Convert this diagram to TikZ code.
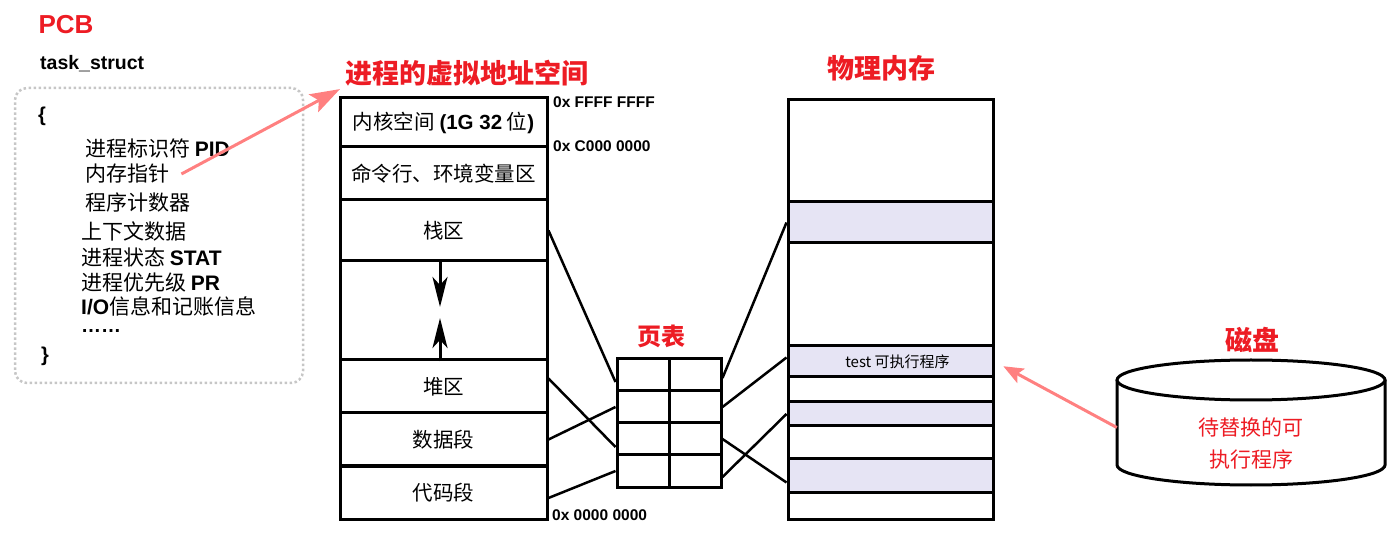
\documentclass[tikz,border=0pt]{standalone}
\usepackage{fontspec}
\setmainfont{Liberation Sans}
\newfontfamily\cjk{Noto Sans CJK SC}
\usetikzlibrary{arrows.meta}

\definecolor{title_red}{RGB}{237,28,36}
\definecolor{link_red}{RGB}{255,128,128}
\definecolor{page_fill}{RGB}{230,228,244}

\newcommand{\pxsize}[1]{\fontsize{#1pt}{#1pt}\selectfont}
\newcommand{\latb}[1]{{\rmfamily\bfseries #1}}

\begin{document}
\begin{tikzpicture}[
    x=1pt, y=-1pt,
    red_title/.style={
        font=\cjk\bfseries\pxsize{27}, text=title_red, inner sep=0pt
    },
    vm_seg/.style={
        draw=black, line width=3pt, fill=white,
        minimum width=207pt, inner sep=0pt,
        font=\cjk\pxsize{20.5}
    },
    pm_seg/.style={
        draw=black, line width=3pt,
        minimum width=205pt, inner sep=0pt
    },
    pt_cell/.style={
        draw=black, line width=3pt,
        minimum width=52pt, minimum height=32pt, inner sep=0pt
    },
    field/.style={anchor=west, inner sep=0pt, font=\cjk\pxsize{21}},
    addr/.style={anchor=west, inner sep=0pt, font=\bfseries\pxsize{15.5}},
    map_line/.style={black, line width=2.5pt},
    grow_arrow/.style={
        -{Stealth[length=30pt, width=15pt, inset=8pt]}, line width=3pt
    },
    link_arrow/.style={link_red, line width=3pt}
]
\useasboundingbox (0,0) rectangle (1398,534);

%% ── PCB ─────────────────────────────────────
\node[text=title_red, font=\bfseries\pxsize{26}, inner sep=0pt]
    (pcb_title) at (66,25) {PCB};
\node[anchor=west, inner sep=0pt, font=\bfseries\pxsize{19.5}]
    (ts_name) at (40,64) {task\_struct};

\node[draw=gray!45, line width=2.5pt, dash pattern=on 2.5pt off 2.5pt,
      rounded corners=12pt, minimum width=288pt, minimum height=295pt]
    (pcb_box) at (159,235.5) {};

\node[field, font=\bfseries\pxsize{20}] (br_open) at (38,116) {\{};
\node[field] (f_pid)  at (85,148) {进程标识符 \latb{PID}};
\node[field] (f_mem)  at (85,174) {内存指针};
\node[field] (f_pc)   at (85,203) {程序计数器};
\node[field] (f_ctx)  at (81,231) {上下文数据};
\node[field] (f_stat) at (81,257) {进程状态 \latb{STAT}};
\node[field] (f_pr)   at (81,283) {进程优先级 \latb{PR}};
\node[field] (f_io)   at (81,306) {\latb{I/O}信息和记账信息};
\node[field, font=\bfseries\pxsize{20}] (f_more) at (81,331) {……};
\node[field, font=\bfseries\pxsize{20}] (br_close) at (41,356) {\}};

% ══════════════════════════════════════
%  virtual address space
% ══════════════════════════════════════
\node[red_title] (vm_title) at (467,73) {进程的虚拟地址空间};

\node[vm_seg, minimum height=49pt] (kernel)  at (443.5,122.5)
    {内核空间 \latb{(1G 32} 位\latb{)}};
\node[vm_seg, minimum height=53pt] (cmdline) at (443.5,173.5) {命令行、环境变量区};
\node[vm_seg, minimum height=61pt] (stack)   at (443.5,230.5) {栈区};
\node[vm_seg, minimum height=99pt] (gap)     at (443.5,310.5) {};
\node[vm_seg, minimum height=53pt] (heap)    at (443.5,386.5) {堆区};
\node[vm_seg, minimum height=53pt] (data)    at (443.5,439.5) {数据段};
\node[vm_seg, minimum height=53pt] (code)    at (443.5,492.5) {代码段};

% stack grows down, heap grows up
\coordinate (stack_tip) at (440,307);
\coordinate (heap_tip)  at (440,318);
\draw[grow_arrow] (gap.north -| stack_tip) -- (stack_tip);
\draw[grow_arrow] (gap.south -| heap_tip) -- (heap_tip);

\node[addr] (a_top)  at (553,102) {0x FFFF FFFF};
\node[addr] (a_kern) at (553,146) {0x C000 0000};
\node[addr] (a_zero) at (552,515) {0x 0000 0000};

%% ── page table ──────────────────────────────
\node[red_title, font=\cjk\bfseries\pxsize{24}] (pt_title) at (661,336) {页表};
\foreach \r in {1,...,4}{
    \foreach \c/\x in {1/643, 2/695}{
        \node[pt_cell] (pt\r\c) at (\x, {343+32*\r}) {};
    }
}

% ══════════════════════════════════════
%  physical memory
% ══════════════════════════════════════
\node[red_title] (pm_title) at (881,68) {物理内存};
\foreach \n/\top/\bot/\col in {1/100/202/white, 2/202/243/page_fill,
        3/243/346/white, 4/346/377/page_fill, 5/377/402/white,
        6/402/426/page_fill, 7/426/459/white, 8/459/492/page_fill,
        9/492/519/white}{
    \node[pm_seg, fill=\col, minimum height={(\bot-\top)*1pt}]
        (pm\n) at (890.5, {(\top+\bot)/2}) {};
}
\node[font=\cjk\pxsize{15}, inner sep=0pt] (test_prog)
    at ([xshift=7pt]pm4.center) {test 可执行程序};

%% ── mapping lines ───────────────────────────
\draw[map_line] (stack.east) -- ([yshift=-7pt]pt11.west);
\draw[map_line] ([yshift=8pt]heap.east) -- ([yshift=-8pt]pt31.west);
\draw[map_line] (data.east) -- (pt21.west);
\draw[map_line] ([yshift=-5.5pt]code.east) -- (pt41.west);

\draw[map_line] ([yshift=-3pt]pt12.east) -- (pm2.west);
\draw[map_line] (pt22.east) -- ([yshift=4pt]pm4.west);
\draw[map_line] (pt32.east) -- ([yshift=-7pt]pm8.west);
\draw[map_line] ([yshift=-6pt]pt42.east) -- (pm6.west);

%% ── disk ────────────────────────────────────
\node[red_title] (disk_title) at (1252,340) {磁盘};
\draw[line width=3pt, fill=white] (1117,380) -- (1117,465)
    arc[start angle=180, end angle=360, x radius=134pt, y radius=20pt]
    -- (1385,380);
\draw[line width=3pt, fill=white] (1251,380) ellipse[x radius=134pt, y radius=20pt];
\node[minimum width=268pt, minimum height=125pt, inner sep=0pt]
    (disk) at (1251,422.5) {};
\node[font=\cjk\fontsize{21pt}{32pt}\selectfont, text=title_red, align=center,
      inner sep=0pt] (disk_text) at (1251,444) {待替换的可\\执行程序};

%% ── red links ───────────────────────────────
\draw[link_arrow, -{Stealth[length=30pt, width=20pt, inset=6pt]}, shorten >=6pt]
    ([xshift=12pt]f_mem.east) -- (vm_title.south west);
\draw[link_arrow, -{Stealth[length=20pt, width=16pt, inset=4pt]}, shorten >=10pt]
    ([yshift=-5pt]disk.west) -- (pm4.east);

\end{tikzpicture}
\end{document}
